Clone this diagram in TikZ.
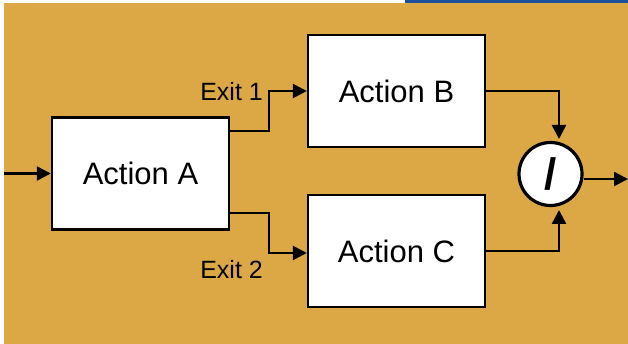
\documentclass[tikz,border=0pt]{standalone}
\usepackage{fontspec}
\setmainfont{Liberation Sans}
\usetikzlibrary{arrows.meta,calc}
\definecolor{bgorange}{RGB}{220,168,70}
\definecolor{topblue}{RGB}{28,80,156}
\tikzset{
  actbox/.style={draw=black, fill=white, line width=2.4pt, minimum width=177pt, minimum height=112pt, inner sep=0pt, font=\fontsize{31}{36}\selectfont},
  conn/.style={draw=black, line width=2.4pt},
  arr/.style={conn, -{Triangle[length=14pt,width=14pt]}},
  exitlab/.style={font=\fontsize{25}{30}\selectfont, inner sep=0pt, anchor=east},
  joinnode/.style={draw=black, fill=white, circle, line width=3.2pt, minimum size=63pt, inner sep=0pt, font=\fontsize{44}{50}\selectfont\bfseries}
}
\begin{document}
\begin{tikzpicture}[x=1pt,y=-1pt]
\useasboundingbox (0,0) rectangle (628,344);
\fill[white] (0,0) rectangle (628,344);
\fill[bgorange] (4,3) rectangle (628,344);
\fill[topblue] (405,0) rectangle (628,3);

\node[actbox] (A) at (140.5,173.5) {Action A};
\node[actbox] (B) at (396.5,91) {Action B};
\node[actbox] (C) at (396.5,251) {Action C};
\node[joinnode] (J) at (550.5,174) {/};

\coordinate (in) at (4,173.5);
\coordinate (out) at (628,179);
\coordinate (e1a) at (0,131);
\coordinate (e2a) at (0,213);
\coordinate (cx) at (269,0);
\coordinate (jx) at (559,0);

\draw[arr] (in) -- (A.west);
\draw[arr] (A.east |- e1a) -- (cx |- e1a) -- (cx |- B.west) -- (B.west);
\draw[arr] (A.east |- e2a) -- (cx |- e2a) -- (cx |- 0,253) -- (C.west |- 0,253);
\draw[arr] (B.east) -- (jx |- B.east) -- (jx |- 0,139);
\draw[arr] (C.east) -- (jx |- C.east) -- (jx |- 0,210);
\draw[arr] (J.east |- out) -- (out);

\node[exitlab] (x1) at (263,92) {Exit 1};
\node[exitlab] (x2) at (263,270) {Exit 2};
\end{tikzpicture}
\end{document}
